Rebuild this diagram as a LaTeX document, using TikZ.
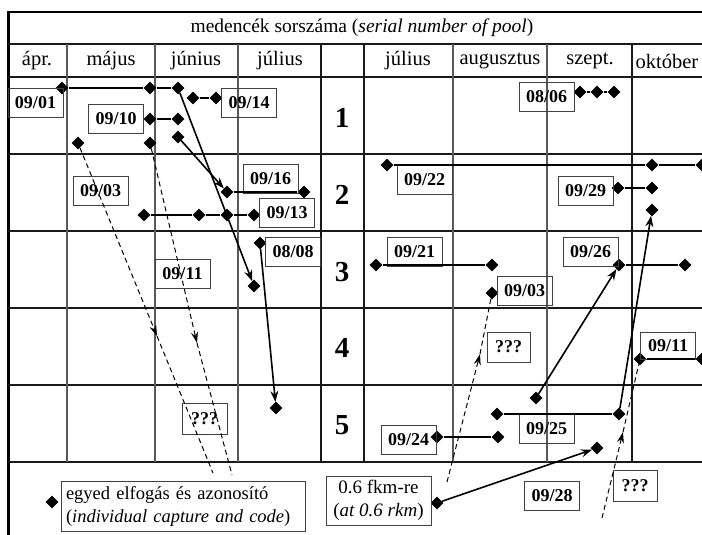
\documentclass[tikz,border=0pt]{standalone}
\usepackage{fontspec}
\setmainfont{Liberation Serif}
\usetikzlibrary{shapes.geometric,arrows.meta}
\tikzset{
  dia/.style={diamond,fill=black,inner sep=0pt,minimum width=13pt,minimum height=13pt},
  lab/.style={draw=black!75,line width=0.9pt,font=\bfseries\fontsize{18}{18}\selectfont,minimum width=55pt,minimum height=29pt,inner sep=0pt},
  conn/.style={line width=2pt},
  arr/.style={line width=1.6pt,-{Stealth[length=11pt,width=8pt]}},
  dsh/.style={line width=1pt,dash pattern=on 5pt off 3.5pt},
  darr/.style={dsh,-{Stealth[length=11pt,width=7pt]}},
  txt/.style={font=\fontsize{19.5}{22}\selectfont,inner sep=0pt},
  mon/.style={font=\fontsize{20.5}{22}\selectfont,inner sep=0pt},
  num/.style={font=\bfseries\fontsize{29}{29}\selectfont,inner sep=0pt},
  hline/.style={line width=1.1pt,black!90},
  vline/.style={line width=1.3pt,black!65},
  vdark/.style={line width=1.1pt,black!90}
}
\begin{document}
\begin{tikzpicture}[x=1pt,y=-1pt]
\useasboundingbox (0,0) rectangle (702,535);
% frame
\draw[line width=2.2pt] (8,12) -- (702,12);
\draw[line width=3pt] (8.5,11) -- (8.5,535);
% horizontal grid lines
\foreach \yy in {44,77,154,231,308,385,462} \draw[hline] (8,\yy) -- (702,\yy);
% vertical grid lines
\foreach \xx in {67,155,238,453,547} \draw[vline] (\xx,44) -- (\xx,462);
\foreach \xx in {321,364,632} \draw[vdark] (\xx,44) -- (\xx,462);
% header
\node[txt] (head) at (362,28) {medencék sorszáma (\textit{serial number of pool})};
\node[mon] (m1) at (37,61) {ápr.};
\node[mon] (m2) at (111,61) {május};
\node[mon] (m3) at (196,61) {június};
\node[mon] (m4) at (280,61) {július};
\node[mon] (m5) at (408,61) {július};
\node[mon] (m6) at (500,61) {augusztus};
\node[mon] (m7) at (590,61) {szept.};
\node[mon] (m8) at (667,61) {október};
% pool numbers
\node[num] (p1) at (342,118) {1};
\node[num] (p2) at (342,195) {2};
\node[num] (p3) at (342,272) {3};
\node[num] (p4) at (342,348) {4};
\node[num] (p5) at (342,425) {5};
% diamonds row 1
\node[dia] (d1a) at (62,88) {};
\node[dia] (d1b) at (150,88) {};
\node[dia] (d1c) at (178,88) {};
\node[dia] (d1d) at (193,98) {};
\node[dia] (d1e) at (216,98) {};
\node[dia] (d1f) at (150,119) {};
\node[dia] (d1g) at (178,119) {};
\node[dia] (d1h) at (78,143) {};
\node[dia] (d1i) at (150,143) {};
\node[dia] (d1j) at (178,137) {};
\node[dia] (d1k) at (580,92) {};
\node[dia] (d1l) at (597,92) {};
\node[dia] (d1m) at (614,92) {};
% row 2
\node[dia] (d2a) at (227,192) {};
\node[dia] (d2b) at (304,192) {};
\node[dia] (d2c) at (144,215) {};
\node[dia] (d2d) at (199,215) {};
\node[dia] (d2e) at (227,215) {};
\node[dia] (d2f) at (254,215) {};
\node[dia] (d2g) at (387,165) {};
\node[dia] (d2h) at (652,165) {};
\node[dia] (d2i) at (702,165) {};
\node[dia] (d2j) at (618,188) {};
\node[dia] (d2k) at (652,188) {};
\node[dia] (d2l) at (652,210) {};
% row 3
\node[dia] (d3a) at (260,243) {};
\node[dia] (d3b) at (254,286) {};
\node[dia] (d3c) at (376,265) {};
\node[dia] (d3d) at (492,265) {};
\node[dia] (d3e) at (492,293) {};
\node[dia] (d3f) at (619,265) {};
\node[dia] (d3g) at (685,265) {};
% row 4
\node[dia] (d4a) at (640,359) {};
\node[dia] (d4b) at (702,359) {};
% row 5
\node[dia] (d5a) at (276,408) {};
\node[dia] (d5b) at (536,398) {};
\node[dia] (d5c) at (497,414) {};
\node[dia] (d5d) at (619,414) {};
\node[dia] (d5e) at (437,437) {};
\node[dia] (d5f) at (498,437) {};
\node[dia] (d5g) at (597,448) {};
% bottom
\node[dia] (d6a) at (437,503) {};
\node[dia] (leg) at (52,502) {};
% labels
\node[lab] (l0901) at (35.5,102.5) {09/01};
\node[lab] (l0914) at (249,102.5) {09/14};
\node[lab] (l0910) at (116,118.5) {09/10};
\node[lab] (l0806) at (546.5,96.5) {08/06};
\node[lab] (l0903a) at (100.5,190.5) {09/03};
\node[lab] (l0916) at (270.5,179) {09/16};
\node[lab] (l0913) at (287,212.5) {09/13};
\node[lab] (l0922) at (424.5,179.5) {09/22};
\node[lab] (l0929) at (585.5,191) {09/29};
\node[lab] (l0808) at (293,252) {08/08};
\node[lab] (l0911a) at (182.5,273.5) {09/11};
\node[lab] (l0921) at (414.5,251.5) {09/21};
\node[lab] (l0903b) at (524.5,290.5) {09/03};
\node[lab] (l0926) at (590.5,251.5) {09/26};
\node[lab,minimum width=45pt,minimum height=31pt] (q1) at (204.5,418.5) {???};
\node[lab,minimum width=43pt,minimum height=30pt] (q2) at (508.5,347) {???};
\node[lab,minimum height=27pt] (l0911b) at (668,345.5) {09/11};
\node[lab] (l0925) at (546.5,429) {09/25};
\node[lab] (l0924) at (408.5,440) {09/24};
\node[lab] (l0928) at (552,495.5) {09/28};
\node[lab,minimum width=44pt,minimum height=31pt] (q3) at (635,485.5) {???};
\node[draw=black!75,line width=0.9pt,minimum width=105pt,minimum height=49pt,inner sep=0pt,align=center,font=\fontsize{19}{23}\selectfont] (rkm) at (378.5,500.5) {0.6 fkm-re\\(\textit{at 0.6 rkm})};
\node[draw=black!75,line width=0.9pt,minimum width=244pt,minimum height=50pt,inner xsep=5pt,inner ysep=0pt,text width=234pt,align=left,font=\fontsize{18.5}{23}\selectfont] (legend) at (183,506) {egyed elfogás és azonosító\\(\textit{individual capture and code})};
% free ends of dashed lines
\coordinate (a1) at (157,336);
\coordinate (c1) at (213,473);
\coordinate (a2) at (197,343);
\coordinate (c2) at (232,475);
\coordinate (a3) at (480,354);
\coordinate (c3) at (447,482);
\coordinate (a4) at (623,432);
\coordinate (c4) at (602,518);
% solid connectors
\draw[conn] (d1a) -- (d1b) -- (d1c);
\draw[conn] (d1d) -- (d1e);
\draw[conn] (d1f) -- (d1g);
\draw[conn] (d1k) -- (d1l) -- (d1m);
\draw[conn] (d2a) -- (d2b);
\draw[conn] (d2c) -- (d2d) -- (d2e) -- (d2f);
\draw[conn] (d2g) -- (d2h) -- (d2i);
\draw[conn] (d2j) -- (d2k);
\draw[conn] (d3c) -- (d3d);
\draw[conn] (d3f) -- (d3g);
\draw[conn] (d4a) -- (d4b);
\draw[conn] (d5c) -- (d5d);
\draw[conn] (d5e) -- (d5f);
% arrows
\draw[arr] (d1c) -- (d3b);
\draw[arr] (d1j) -- (d2a);
\draw[arr] (d3a) -- (d5a);
\draw[arr] (d5d) -- (d2l);
\draw[arr] (d5b) -- (d3f);
\draw[arr] (d6a) -- (d5g);
% dashed
\draw[darr] (d1h) -- (a1);
\draw[dsh] (a1) -- (c1);
\draw[darr] (d1i) -- (a2);
\draw[dsh] (a2) -- (c2);
\draw[darr] (c3) -- (a3);
\draw[dsh] (a3) -- (d3e);
\draw[darr] (c4) -- (a4);
\draw[dsh] (a4) -- (d4a);
\end{tikzpicture}
\end{document}
